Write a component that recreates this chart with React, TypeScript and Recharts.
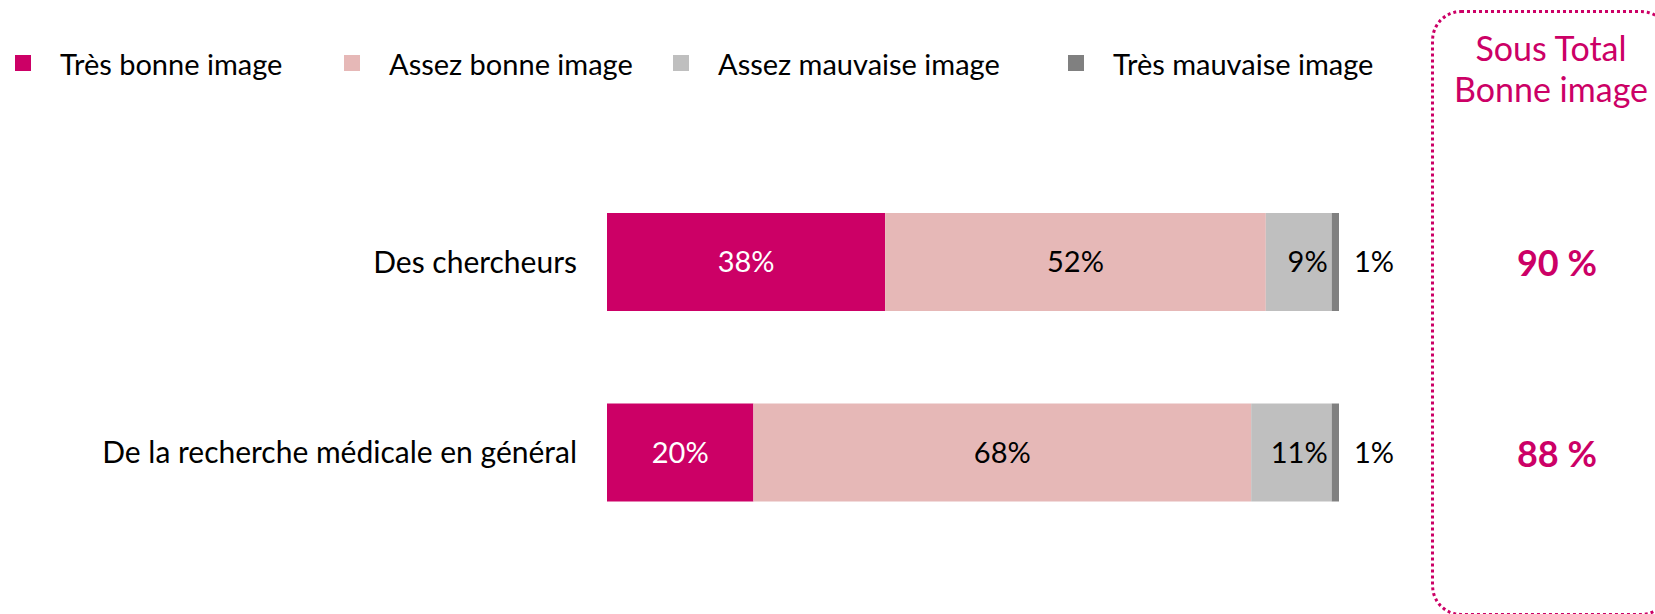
import React from "react";
import { BarChart, Bar, XAxis, YAxis, Legend, LabelList } from "recharts";

const CATEGORIES = ["Des chercheurs", "De la recherche médicale en général"];
const SERIES_NAMES = ["Très bonne image", "Assez bonne image", "Assez mauvaise image", "Très mauvaise image"];
const TRES_BONNE = [38, 20];
const ASSEZ_BONNE = [52, 68];
const ASSEZ_MAUVAISE = [9, 11];
const TRES_MAUVAISE = [1, 1];
const SOUS_TOTAL = [90, 88];

const MAGENTA = "#CC0066";
const FONT = "Lato, 'Open Sans', sans-serif";
// legend entry widths, like the fixed slots of the original
const LEGEND_SLOTS = [329, 329, 395, undefined];

const data = CATEGORIES.map((name, i) => ({
  name,
  tresBonne: TRES_BONNE[i],
  assezBonne: ASSEZ_BONNE[i],
  assezMauvaise: ASSEZ_MAUVAISE[i],
  tresMauvaise: TRES_MAUVAISE[i],
  total: `${SOUS_TOTAL[i]} %`,
}));

const pct = (v: any) => `${v}%`;

const LegendRow = ({ payload }: any) => {
  const items = [...(payload || [])].sort(
    (a: any, b: any) => SERIES_NAMES.indexOf(a.value) - SERIES_NAMES.indexOf(b.value)
  );
  return (
    <div style={{ display: "flex", alignItems: "center", height: 40 }}>
      {items.map((entry: any, i: number) => (
        <div
          key={entry.value}
          style={{ display: "flex", alignItems: "center", width: LEGEND_SLOTS[i], flexShrink: 0 }}
        >
          <div style={{ width: 16, height: 16, background: entry.color, marginRight: 29 }} />
          <span style={{ fontSize: 29, color: "#000", whiteSpace: "nowrap" }}>{entry.value}</span>
        </div>
      ))}
    </div>
  );
};

const TotalTick = ({ x, y, payload }: any) => (
  <text
    x={x + 218}
    y={y}
    textAnchor="middle"
    dominantBaseline="central"
    fill={MAGENTA}
    fontWeight="bold"
    fontSize={36}
  >
    {payload.value}
  </text>
);

export default function App() {
  return (
    <div
      style={{
        position: "absolute",
        left: 0,
        top: 0,
        width: 1655,
        height: 614,
        overflow: "hidden",
        background: "#fff",
        fontFamily: FONT,
      }}
    >
      {/* dotted sub-total frame */}
      <div
        style={{
          position: "absolute",
          left: 1431,
          top: 10,
          width: 240,
          height: 606,
          border: `3px dotted ${MAGENTA}`,
          borderRadius: 30,
          boxSizing: "border-box",
        }}
      />
      <div
        style={{
          position: "absolute",
          left: 1431,
          top: 27,
          width: 240,
          textAlign: "center",
          color: MAGENTA,
          fontSize: 34,
          lineHeight: "41px",
        }}
      >
        Sous Total
        <br />
        Bonne image
      </div>

      <BarChart
        width={1655}
        height={614}
        data={data}
        layout="vertical"
        margin={{ top: 167, right: 0, bottom: 66, left: 0 }}
        barSize={98}
        style={{ position: "absolute", left: 0, top: 0 }}
      >
        <XAxis type="number" domain={[0, 100]} hide />
        <YAxis
          type="category"
          dataKey="name"
          width={607}
          axisLine={false}
          tickLine={false}
          tickSize={0}
          tickMargin={30}
          tick={{ fontSize: 30, fill: "#000" }}
        />
        <YAxis
          yAxisId="total"
          type="category"
          dataKey="total"
          orientation="right"
          width={316}
          axisLine={false}
          tickLine={false}
          tickSize={0}
          tickMargin={0}
          tick={<TotalTick />}
        />
        <Legend
          verticalAlign="middle"
          align="center"
          content={<LegendRow />}
          wrapperStyle={{ top: 43, left: 15, width: 1400 }}
        />
        <Bar dataKey="tresBonne" name={SERIES_NAMES[0]} stackId="a" fill={MAGENTA} isAnimationActive={false}>
          <LabelList dataKey="tresBonne" position="center" formatter={pct} fill="#fff" fontSize={29} />
        </Bar>
        <Bar dataKey="assezBonne" name={SERIES_NAMES[1]} stackId="a" fill="#E6B8B7" isAnimationActive={false}>
          <LabelList dataKey="assezBonne" position="center" formatter={pct} fill="#000" fontSize={29} />
        </Bar>
        <Bar dataKey="assezMauvaise" name={SERIES_NAMES[2]} stackId="a" fill="#BFBFBF" isAnimationActive={false}>
          <LabelList dataKey="assezMauvaise" position="insideRight" offset={4} formatter={pct} fill="#000" fontSize={29} />
        </Bar>
        <Bar dataKey="tresMauvaise" name={SERIES_NAMES[3]} stackId="a" fill="#808080" isAnimationActive={false}>
          <LabelList dataKey="tresMauvaise" position="right" offset={15} formatter={pct} fill="#000" fontSize={29} />
        </Bar>
      </BarChart>
    </div>
  );
}
